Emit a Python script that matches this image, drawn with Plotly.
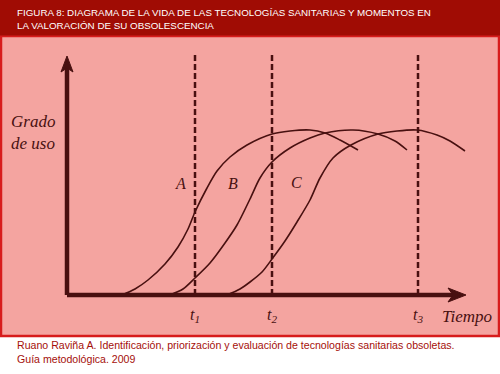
import plotly.graph_objects as go

# ---- data (chart units: time from origin, degree of use from baseline) ----
curve_names = ["A", "B", "C"]
a_time = [55, 68, 81, 98, 111, 121, 128, 140, 150, 163, 180, 205, 223, 243, 258, 273, 291]
a_use = [0, 6, 15, 31, 48, 66, 83, 107, 124, 138, 150, 161, 164, 165, 162, 155, 145]
b_time = [103, 116, 128, 143, 158, 170, 183, 193, 205, 223, 243, 258, 286, 311, 328, 340]
b_use = [0, 6, 17, 32, 52, 70, 96, 117, 133, 147, 157, 162, 165, 161, 154, 145]
c_time = [160, 173, 183, 195, 205, 218, 230, 243, 253, 266, 284, 311, 330, 350, 370, 383, 398]
c_use = [0, 6, 13, 23, 36, 54, 73, 95, 117, 137, 150, 161, 164, 165, 160, 154, 144]
moment_times = [128, 205, 351]
moment_labels = ["t<sub>1</sub>", "t<sub>2</sub>", "t<sub>3</sub>"]
label_pos_time = [113, 166, 229]
label_pos_use = [112, 112, 113]

title_text = "FIGURA 8: DIAGRAMA DE LA VIDA DE LAS TECNOLOGÍAS SANITARIAS Y MOMENTOS EN<br>LA VALORACIÓN DE SU OBSOLESCENCIA"
source_text = "Ruano Raviña A. Identificación, priorización y evaluación de tecnologías sanitarias obsoletas.<br>Guía metodológica. 2009"
y_title = "Grado<br>de uso"
x_title = "Tiempo"

HEADER = "rgb(160,12,4)"
PANEL = "rgb(244,164,160)"
BORDER = "rgb(215,28,28)"
INK = "rgb(72,16,16)"
FOOT = "rgb(165,15,10)"
SERIF = "Liberation Serif, Times New Roman, serif"
SANS = "Liberation Sans, Arial, sans-serif"

W, H = 500, 374
ox, oy = 67, 295  # pixel position of chart origin

fig = go.Figure()

# vertical dashed moments
for t in moment_times:
    fig.add_trace(go.Scatter(x=[t, t], y=[0, 242], mode="lines",
                             line=dict(color=INK, width=2.5, dash="6px,3px"),
                             hoverinfo="skip", showlegend=False))

for xs, ys in [(a_time, a_use), (b_time, b_use), (c_time, c_use)]:
    fig.add_trace(go.Scatter(x=xs, y=ys, mode="lines",
                             line=dict(color=INK, width=1.6, shape="spline", smoothing=0.8),
                             hoverinfo="skip", showlegend=False))

shapes = [
    # pink panel
    dict(type="rect", xref="paper", yref="paper", x0=0.002, x1=0.998,
         y0=1 - 336 / H, y1=1 - 36 / H, fillcolor=PANEL,
         line=dict(color=BORDER, width=2.5), layer="below"),
    # header band
    dict(type="rect", xref="paper", yref="paper", x0=0, x1=1,
         y0=1 - 35.5 / H, y1=1, fillcolor=HEADER, line=dict(width=0), layer="below"),
    # axes
    dict(type="line", xref="x", yref="y", x0=0, x1=388, y0=0, y1=0,
         line=dict(color=INK, width=4.5)),
    dict(type="line", xref="x", yref="y", x0=0, x1=0, y0=0, y1=228,
         line=dict(color=INK, width=4.5)),
    dict(type="path", xref="x", yref="y",
         path="M 381,-7 L 399,0 L 381,7 L 386,0 Z", fillcolor=INK, line=dict(color=INK, width=1)),
    dict(type="path", xref="x", yref="y",
         path="M -6,223 L 0,239 L 6,223 L 0,227 Z", fillcolor=INK, line=dict(color=INK, width=1)),
]

ann = []
ann.append(dict(x=15 / W, y=1 - 19 / H, xref="paper", yref="paper", text=title_text,
                showarrow=False, xanchor="left", yanchor="middle", align="left",
                font=dict(family=SANS, size=9.8, color="white")))
ann.append(dict(x=15 / W, y=1 - 352 / H, xref="paper", yref="paper", text=source_text,
                showarrow=False, xanchor="left", yanchor="middle", align="left",
                font=dict(family=SANS, size=10.6, color=FOOT)))
ann.append(dict(x=9 - ox, y=oy - 132, xref="x", yref="y", text=y_title, showarrow=False,
                xanchor="left", yanchor="middle", align="left",
                font=dict(family=SERIF, size=17, color=INK, style="italic")))
ann.append(dict(x=400, y=-21, xref="x", yref="y", text=x_title, showarrow=False,
                xanchor="center", yanchor="middle",
                font=dict(family=SERIF, size=17, color=INK, style="italic")))
for t, lab in zip(moment_times, moment_labels):
    ann.append(dict(x=t, y=-20, xref="x", yref="y", text=lab, showarrow=False,
                    xanchor="center", yanchor="middle",
                    font=dict(family=SERIF, size=16, color=INK, style="italic")))
for name, tx, ty in zip(curve_names, label_pos_time, label_pos_use):
    ann.append(dict(x=tx, y=ty, xref="x", yref="y", text=name, showarrow=False,
                    xanchor="center", yanchor="middle",
                    font=dict(family=SERIF, size=16, color=INK, style="italic")))

fig.update_layout(
    width=W, height=H,
    margin=dict(l=0, r=0, t=0, b=0),
    paper_bgcolor="white", plot_bgcolor="rgba(0,0,0,0)",
    xaxis=dict(range=[-ox, W - ox], visible=False, fixedrange=True),
    yaxis=dict(range=[oy - H, oy], visible=False, fixedrange=True),
    shapes=shapes, annotations=ann, showlegend=False,
)

fig.write_html("out.html", config={"displayModeBar": False, "staticPlot": True},
               post_script="document.body.style.margin='0px';")
